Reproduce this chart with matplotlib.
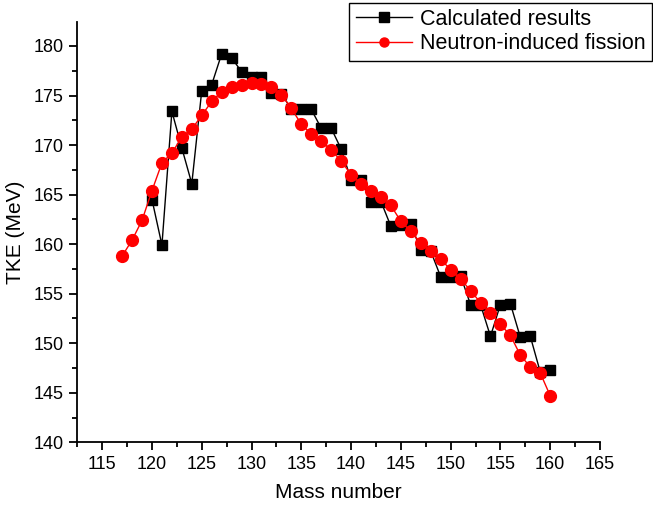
import matplotlib.pyplot as plt
from matplotlib.ticker import MultipleLocator

plt.rcParams['font.family'] = ['Liberation Sans', 'DejaVu Sans']

# calculated TKE values (black squares)
mass_calc = list(range(120, 161))
tke_calc = [164.5, 159.9, 173.4, 169.7, 166.1, 175.5, 176.1, 179.2, 178.8, 177.4,
            176.9, 176.9, 175.3, 175.2, 173.6, 173.6, 173.6, 171.7, 171.7, 169.6,
            166.5, 166.5, 164.3, 164.3, 161.8, 161.9, 162.0, 159.4, 159.3, 156.7,
            156.7, 156.8, 153.9, 153.9, 150.7, 153.9, 154.0, 150.6, 150.7, 147.1,
            147.3]

# neutron-induced fission data (red circles)
mass_exp = list(range(117, 161))
tke_exp = [158.8, 160.4, 162.4, 165.4, 168.2, 169.2, 170.8, 171.6, 173.0, 174.4,
           175.4, 175.9, 176.1, 176.3, 176.2, 175.9, 175.1, 173.7, 172.1, 171.1,
           170.4, 169.5, 168.4, 167.0, 166.1, 165.4, 164.8, 163.9, 162.3, 161.3,
           160.1, 159.3, 158.5, 157.4, 156.5, 155.3, 154.1, 153.1, 151.9, 150.8,
           148.8, 147.6, 147.0, 144.7]

fig = plt.figure(figsize=(6.53, 5.08), dpi=100)
ax = fig.add_axes([0.1184, 0.1293, 0.8004, 0.828])

ax.plot(mass_calc, tke_calc, color='black', lw=1, marker='s', ms=7,
        label='Calculated results', zorder=2)
ax.plot(mass_exp, tke_exp, color='red', lw=1, marker='o', ms=8.5,
        label='Neutron-induced fission', zorder=3)

ax.set_xlim(112.5, 165)
ax.set_ylim(140, 182.45)
ax.xaxis.set_major_locator(MultipleLocator(5))
ax.xaxis.set_minor_locator(MultipleLocator(2.5))
ax.yaxis.set_major_locator(MultipleLocator(5))
ax.yaxis.set_minor_locator(MultipleLocator(2.5))
ax.set_xticks(range(115, 166, 5))

for side in ['top', 'right']:
    ax.spines[side].set_visible(False)
for side in ['left', 'bottom']:
    ax.spines[side].set_linewidth(1.3)
ax.tick_params(which='major', direction='out', length=6, width=1.3,
               labelsize=13, pad=4)
ax.tick_params(which='minor', direction='out', length=3.5, width=1.3)

ax.set_xlabel('Mass number', fontsize=15, labelpad=7)
ax.set_ylabel('TKE (MeV)', fontsize=15, labelpad=6)

leg = fig.legend(loc='upper right', bbox_to_anchor=(0.999, 0.995), fontsize=15.5,
                 fancybox=False, edgecolor='black', framealpha=1,
                 handlelength=2.6, borderpad=0.3, labelspacing=0.15,
                 handletextpad=0.4, borderaxespad=0)
leg.get_frame().set_linewidth(1)
for h in leg.legend_handles:
    h.set_markersize(6.5)

plt.savefig('out.png', dpi=100)
